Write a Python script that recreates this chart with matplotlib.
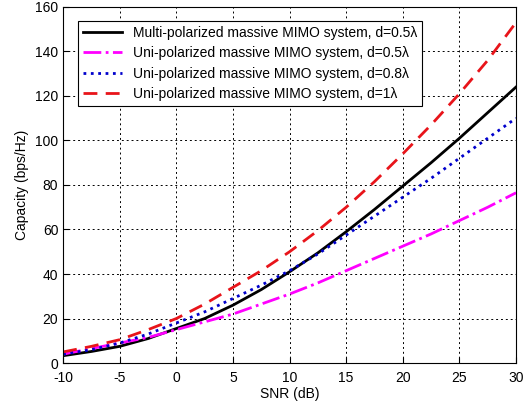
import matplotlib
matplotlib.use("Agg")
import matplotlib.pyplot as plt

snr = [-10, -7.5, -5, -2.5, 0, 2.5, 5, 7.5, 10, 12.5, 15, 17.5, 20, 22.5, 25, 27.5, 30]
multi_05 = [3.3, 5.2, 7.5, 11, 15.5, 20, 26, 33, 41, 49.5, 59, 69, 79.5, 90, 101, 112.5, 124]
uni_05 = [4, 6.5, 9, 11.5, 15, 18.5, 22, 26.5, 31, 36, 41.5, 47, 52.5, 58, 64, 70, 76.5]
uni_08 = [4, 6, 9, 13, 18, 23, 29, 35, 41.5, 49, 57.5, 66, 74.5, 83, 92, 101, 110]
uni_1 = [5, 7.5, 10.5, 15, 20, 26.5, 34, 41.5, 50, 59.5, 70, 81.5, 94, 107, 121, 136, 153]

labels = [
    "Multi-polarized massive MIMO system, d=0.5λ",
    "Uni-polarized massive MIMO system, d=0.5λ",
    "Uni-polarized massive MIMO system, d=0.8λ",
    "Uni-polarized massive MIMO system, d=1λ",
]

plt.rcParams["font.family"] = ["Liberation Sans", "DejaVu Sans"]
plt.rcParams["axes.unicode_minus"] = False

fig = plt.figure(figsize=(5.26, 4.07), dpi=100)
ax = fig.add_axes([0.12, 0.108, 0.861, 0.875])

ax.plot(snr, multi_05, color="black", lw=2, ls="-", label=labels[0])
ax.plot(snr, uni_05, color="#ff00ff", lw=2, ls="-.", label=labels[1])
ax.plot(snr, uni_08, color="#0000cc", lw=2, ls=":", label=labels[2])
ax.plot(snr, uni_1, color="#e8141a", lw=2, ls=(0, (5, 3)), label=labels[3])

ax.set_xlim(-10, 30)
ax.set_ylim(0, 160)
ax.set_xticks(range(-10, 31, 5))
ax.set_yticks(range(0, 161, 20))
ax.grid(True, color="black", ls=(0, (2, 3)), lw=0.7)
ax.tick_params(direction="in", labelsize=10, length=4)
ax.tick_params(axis="x", pad=6)
ax.set_xlabel("SNR (dB)", fontsize=10, labelpad=1)
ax.set_ylabel("Capacity (bps/Hz)", fontsize=10, labelpad=4)

leg = ax.legend(loc="upper left", bbox_to_anchor=(0.033, 0.96), fontsize=10,
                fancybox=False, edgecolor="black", framealpha=1,
                handlelength=2.8, borderpad=0.35, labelspacing=0.45, borderaxespad=0)
leg.get_frame().set_linewidth(0.8)

fig.savefig("out.png", dpi=100)
